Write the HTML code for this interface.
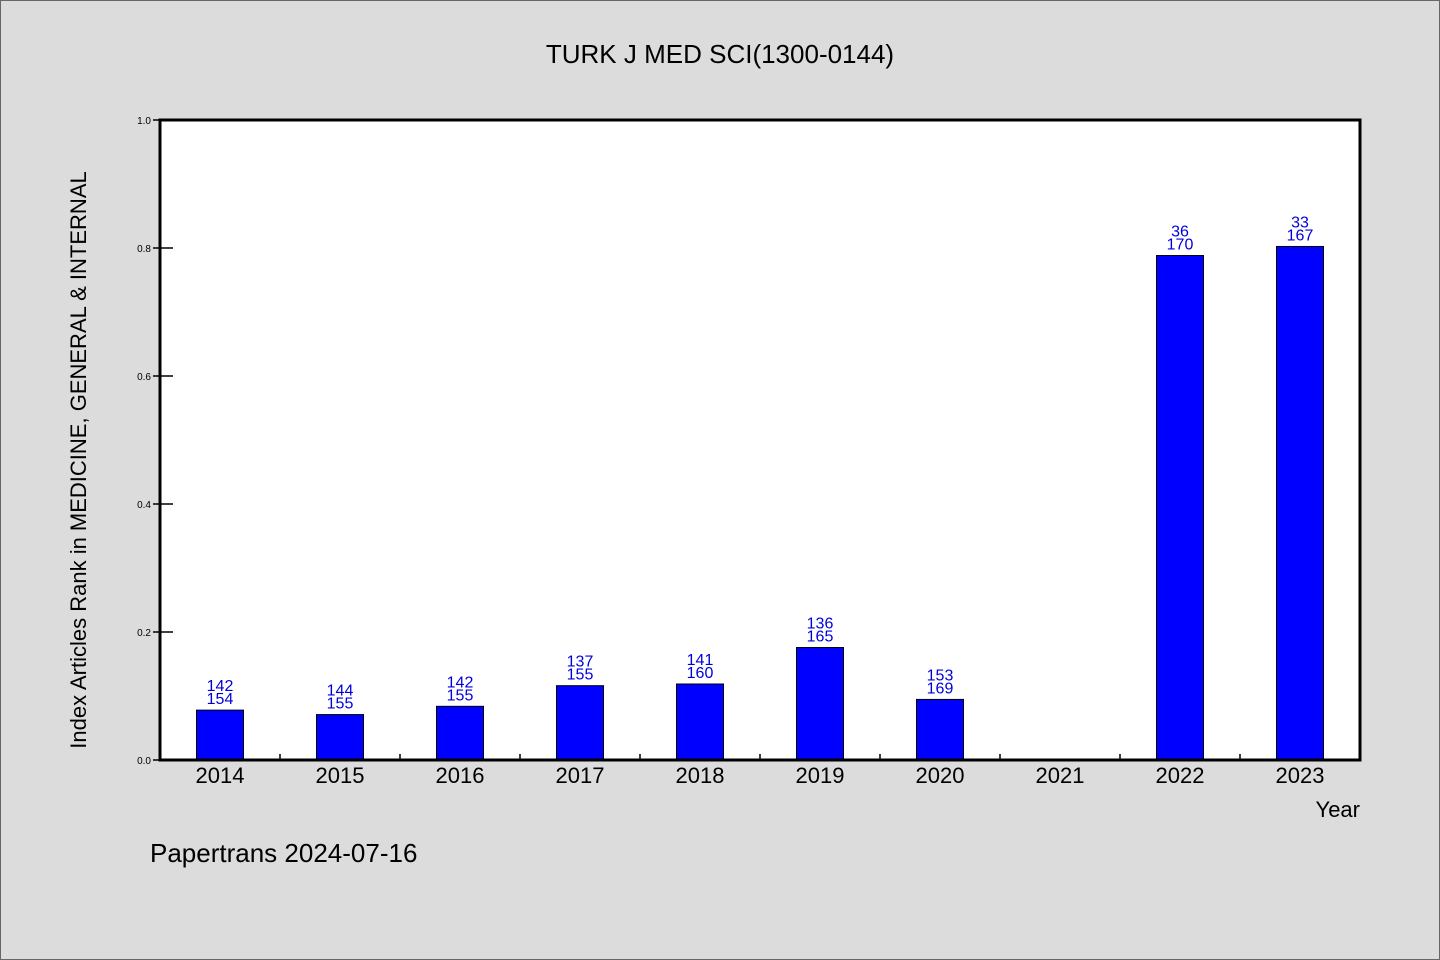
<!DOCTYPE html>
<html><head><meta charset="utf-8"><style>
body{margin:0;background:#dcdcdc}
svg{display:block}
text{font-family:"WenQuanYi Zen Hei","Liberation Sans",sans-serif}
</style></head><body>
<svg width="1440" height="960" id="chart">
<rect x="0.5" y="0.5" width="1439" height="959" fill="#dcdcdc" stroke="#666"/>
<text x="720" y="63" font-size="26" text-anchor="middle">TURK J MED SCI(1300-0144)</text>
<rect x="160" y="120" width="1200" height="640" fill="#fff"/>
<g id="ticks"></g>
<g id="bars"></g>
<rect x="160" y="120" width="1200" height="640" fill="none" stroke="#000" stroke-width="3"/>
<text x="1360" y="817" font-size="22" text-anchor="end">Year</text>
<text transform="translate(86,460) rotate(-90)" font-size="22" text-anchor="middle">Index Articles Rank in MEDICINE, GENERAL &amp; INTERNAL</text>
<text x="150" y="862" font-size="26">Papertrans 2024-07-16</text>
</svg>
<script>
const categories=["2014","2015","2016","2017","2018","2019","2020","2021","2022","2023"];
const ranks=[142,144,142,137,141,136,153,null,36,33];
const totals=[154,155,155,155,160,165,169,null,170,167];
const yTicks=[0,0.2,0.4,0.6,0.8,1.0];
const yTickLabels=["0.0","0.2","0.4","0.6","0.8","1.0"];
const NS="http://www.w3.org/2000/svg";
const x0=160,x1=1360,y0=760,y1=120;
const band=(x1-x0)/categories.length;
const xc=i=>x0+band*(i+0.5);
const y=v=>y0-(y0-y1)*v;
function mk(t,a,p){const e=document.createElementNS(NS,t);for(const k in a)e.setAttribute(k,a[k]);p.appendChild(e);return e;}
const tg=document.getElementById('ticks'),bg=document.getElementById('bars');
yTicks.forEach((v,i)=>{
 const l=mk('line',{x1:153,x2:173,y1:y(v),y2:y(v),stroke:'#000','stroke-width':1.5},tg);
 
 
 const t=mk('text',{x:151,y:y(v)+4,'font-size':10,'text-anchor':'end'},tg);t.textContent=yTickLabels[i];
 
 
});
categories.forEach((c,i)=>{
 if(i>0){const l=mk('line',{x1:x0+band*i,x2:x0+band*i,y1:754,y2:760,stroke:'#000','stroke-width':1.5},tg);
 
 }
 const t=mk('text',{x:xc(i),y:783,'font-size':22,'text-anchor':'middle'},tg);t.textContent=c;
 
 
 if(ranks[i]==null)return;
 const v=1-ranks[i]/totals[i];
 const r=mk('rect',{x:xc(i)-23.5,y:y(v),width:47,height:y0-y(v),fill:'#0000ff',stroke:'#000','stroke-width':1},bg);
 
 
 const a=mk('text',{x:xc(i),y:y(v)-19,'font-size':16,'text-anchor':'middle',fill:'#0000dd'},bg);a.textContent=ranks[i];
 
 
 const b=mk('text',{x:xc(i),y:y(v)-6,'font-size':16,'text-anchor':'middle',fill:'#0000dd'},bg);b.textContent=totals[i];
 
 
});
</script>
</body></html>
